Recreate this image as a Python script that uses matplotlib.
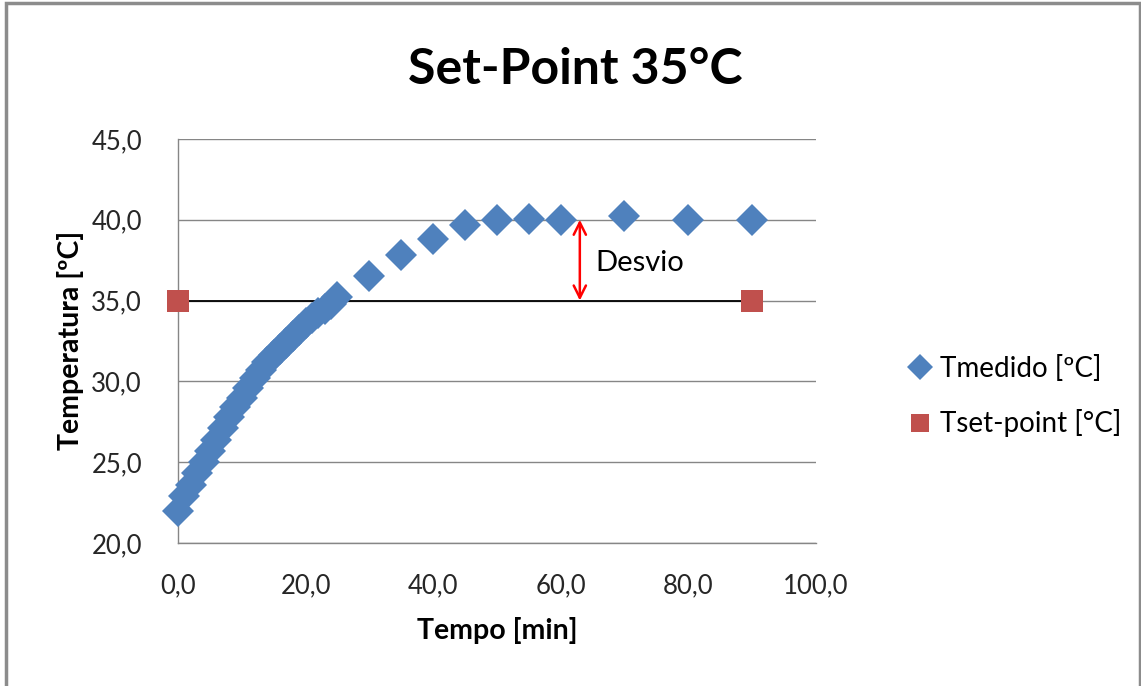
import matplotlib
matplotlib.use("Agg")
import matplotlib.pyplot as plt
from matplotlib.ticker import FuncFormatter
from matplotlib.patches import Rectangle

plt.rcParams['font.family'] = ['Lato', 'DejaVu Sans']

# dados
tempo = [0, 1, 2, 3, 4, 5, 6, 7, 8, 9, 10, 11, 12, 13, 14, 15, 16, 17, 18, 19,
         20, 21, 22, 23, 24, 25, 30, 35, 40, 45, 50, 55, 60, 70, 80, 90]
t_medido = [22.0, 22.9, 23.6, 24.3, 25.0, 25.7, 26.4, 27.1, 27.8, 28.4,
            29.0, 29.6, 30.2, 30.7, 31.2, 31.6, 32.0, 32.4, 32.8, 33.2,
            33.6, 33.9, 34.2, 34.5, 34.8, 35.2, 36.5, 37.8, 38.8, 39.7,
            40.0, 40.05, 40.0, 40.2, 40.0, 40.0]
tempo_sp = [0, 90]
t_setpoint = [35.0, 35.0]

fig = plt.figure(figsize=(11.41, 6.86), dpi=100)
ax = fig.add_axes([0.156, 0.2085, 0.559, 0.589])

ax.plot(tempo_sp, t_setpoint, color='black', lw=1.3, zorder=2)
ax.plot(tempo, t_medido, 'D', color='#4F81BD', ms=16.5, mew=0,
        label='Tmedido [ºC]', zorder=3, clip_on=False)
ax.plot(tempo_sp, t_setpoint, 's', color='#C0504D', ms=16.5, mew=0,
        label='Tset-point [°C]', zorder=4, clip_on=False)

ax.set_xlim(0, 100)
ax.set_ylim(20, 45)
ax.set_xticks([0, 20, 40, 60, 80, 100])
ax.set_yticks([20, 25, 30, 35, 40, 45])
fmt = FuncFormatter(lambda v, p: ('%.1f' % v).replace('.', ','))
ax.xaxis.set_major_formatter(fmt)
ax.yaxis.set_major_formatter(fmt)
ax.tick_params(length=0, labelsize=18.5, colors='#262626')
ax.tick_params(axis='x', pad=22)
ax.tick_params(axis='y', pad=26)

ax.grid(axis='y', color='#868686', lw=1)
ax.set_axisbelow(True)
for s in ['top', 'right']:
    ax.spines[s].set_visible(False)
for s in ['left', 'bottom']:
    ax.spines[s].set_color('#868686')
    ax.spines[s].set_linewidth(1)

fig.text(497 / 1141, 1 - 630 / 686, 'Tempo [min]', fontsize=20.5,
         fontweight='bold', ha='center', va='center')
fig.text(70 / 1141, 1 - 340 / 686, 'Temperatura [ºC]', fontsize=20.5,
         fontweight='bold', ha='center', va='center', rotation=90)
fig.text(0.504, 1 - 70 / 686, 'Set-Point 35°C', fontsize=36, fontweight='bold',
         ha='center', va='center')

# seta do desvio
ax.annotate('', xy=(63.0, 40.0), xytext=(63.0, 35.0),
            arrowprops=dict(arrowstyle='<->', color='red', lw=1.8,
                            mutation_scale=22, shrinkA=0, shrinkB=0))
ax.text(65.5, 37.3, 'Desvio', fontsize=21, va='center', ha='left')

fig.legend(loc='center left', bbox_to_anchor=(0.781, 1 - 396 / 686), frameon=False,
           fontsize=20, handletextpad=0.15, labelspacing=1.0,
           markerscale=0.8, handlelength=1.1, borderpad=0)

fig.patches.append(Rectangle((0.005, -0.05), 0.994, 1.046, transform=fig.transFigure,
                             fill=False, edgecolor='#8c8c8c', lw=2.5))

fig.savefig('out.png', dpi=100)
